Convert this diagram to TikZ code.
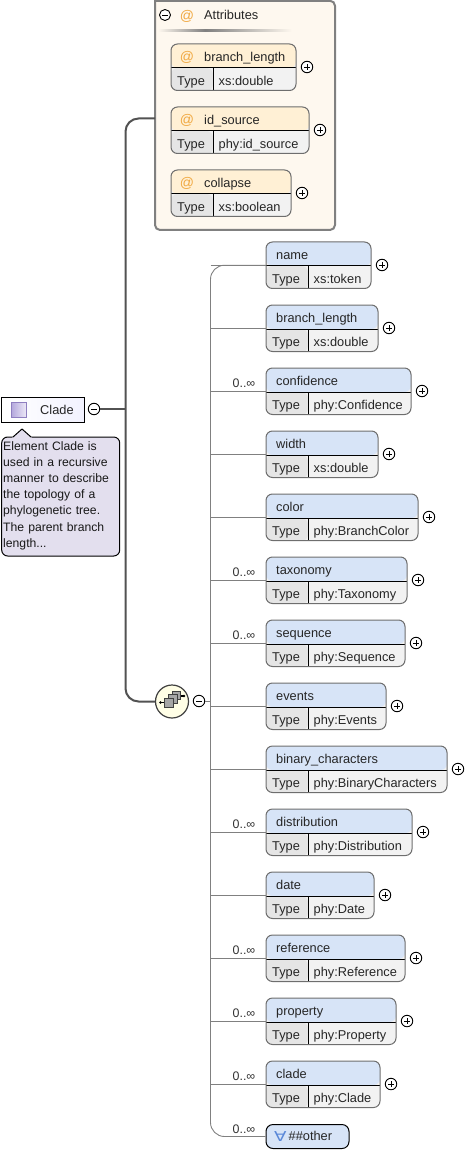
\documentclass[tikz,border=0pt]{standalone}
\usepackage{fontspec}
\setmainfont{Liberation Sans}
\newfontfamily\symfont{DejaVu Sans}
\usetikzlibrary{calc}
\definecolor{hdrblue}{HTML}{D7E4F7}
\definecolor{hdrorange}{HTML}{FFF0D5}
\definecolor{typecell}{HTML}{E5E5E5}
\definecolor{valcell}{HTML}{F2F2F2}
\definecolor{edgegray}{HTML}{6E6E6E}
\definecolor{attrfill}{HTML}{FEF8EF}
\definecolor{notefill}{HTML}{E3DFEE}
\definecolor{atcolor}{HTML}{F0A840}
\definecolor{iconviolet}{HTML}{8F7FC0}
\definecolor{icondark}{HTML}{B4A8DC}
\definecolor{iconlight}{HTML}{EEEAF8}
\definecolor{forallblue}{HTML}{5A88D8}
\tikzset{
  txt/.style={inner sep=0pt,anchor=base west,font=\fontsize{12.8}{14}\selectfont,text=black!85},
  conn/.style={draw=black!50,line width=0.9pt},
  thickconn/.style={draw=black!68,line width=2pt},
  expander/.style={circle,draw=black,fill=white,line width=0.9pt,minimum size=11.5pt,inner sep=0pt},
  bigbox/.style={draw=edgegray,line width=1pt,rounded corners=6.5pt,inner sep=0pt,anchor=north west},
  mult/.style={inner sep=0pt,anchor=base west,font=\fontsize{12.4}{14}\selectfont,text=black!80},
}
% #1 key, #2 top, #3 right, #4 label, #5 type, #6 left, #7 header colour, #8 type-cell width, #9 text offset
\newcommand\typedbox[9]{%
  \pgfmathsetmacro\boxw{#3-#6}%
  \node[bigbox,minimum width=\boxw pt,minimum height=46.5pt,fill=valcell,
    path picture={
      \fill[#7] (path picture bounding box.north west) rectangle ([xshift=\boxw pt,yshift=-24pt]path picture bounding box.north west);
      \fill[typecell] ([yshift=-24pt]path picture bounding box.north west) rectangle ([xshift=#8pt,yshift=-47pt]path picture bounding box.north west);
      \draw[black,line width=1pt] ([yshift=-24pt]path picture bounding box.north west) -- ([xshift=\boxw pt,yshift=-24pt]path picture bounding box.north west);
      \draw[black,line width=1pt] ([xshift=#8pt,yshift=-24pt]path picture bounding box.north west) -- ([xshift=#8pt,yshift=-47pt]path picture bounding box.north west);
    }] (#1) at (#6,#2-0.5) {};
  \node[txt] (#1-label) at (#6+#9,#2+17.6) {#4};
  \node[txt] (#1-typekey) at (#6+6.5,#2+41.6) {Type};
  \node[txt] (#1-type) at (#6+#8+6,#2+41.6) {#5};
  \node[expander] (#1-plus) at (#3+11.5,#2+23) {};
  \draw[black,line width=0.9pt] (#1-plus.center) ++(-3,0) -- ++(6,0) (#1-plus.center) ++(0,-3) -- ++(0,6);
}
\newcommand\elem[5]{\typedbox{#1}{#2}{#3-0.5}{#4}{#5}{265.5}{hdrblue}{42}{10.5}
  \draw[conn] (trunk |- #1.west) -- (#1.west);}
\newcommand\attrib[5]{\typedbox{#1}{#2}{#3-0.5}{#4}{#5}{170.5}{hdrorange}{42}{33.5}
  \node[inner sep=0pt,anchor=base,text=atcolor,font=\fontsize{14}{14}\selectfont] (#1-at) at (187,#2+18) {@};}
\newcommand\multi[2]{\node[mult] (m#1) at (232.5,#2+19.5) {0..∞};}
\begin{document}
\begin{tikzpicture}[x=1pt,y=-1pt]
\useasboundingbox (0,0) rectangle (466,1155);
\coordinate (trunk) at (210.5,700);
% Attributes panel
\draw[draw=black!50,line width=2pt,fill=attrfill,rounded corners=5pt] (155,-6) -- (155,230) -- (335,230) -- (335,0.8) -- (155,0.8);
\node[minimum width=180pt,minimum height=230pt,inner sep=0pt,anchor=north west] (attrs) at (155,0) {};
\node[expander,minimum size=11pt] (attrs-minus) at (165,15) {};
\draw[black,line width=0.9pt] (attrs-minus.center) ++(-3,0) -- ++(6,0);
\node[inner sep=0pt,anchor=base,text=atcolor,font=\fontsize{14}{14}\selectfont] (attrs-at) at (187,20.5) {@};
\node[txt] (attrs-title) at (204,20) {Attributes};
\shade[left color=attrfill,right color=black!50] (158,30) rectangle (205,32);
\shade[left color=black!50,right color=attrfill] (205,30) rectangle (292,32);
\attrib{abl}{44}{296}{branch\_length}{xs:double}
\attrib{ais}{107}{309}{id\_source}{phy:id\_source}
\attrib{aco}{170}{291}{collapse}{xs:boolean}
% Root element
\node[draw=black,line width=1pt,left color=white,right color=blue!5,minimum width=83pt,minimum height=25pt,inner sep=0pt,anchor=north west] (clade) at (0.7,396.8) {};
\node[draw=iconviolet,line width=0.8pt,inner sep=0pt,minimum size=15pt,shading angle=-45,left color=icondark,right color=iconlight] (clade-icon) at (19,409.5) {};
\node[txt] (clade-label) at (40,414) {Clade};
\node[expander] (clade-minus) at (94,409) {};
\draw[black,line width=0.9pt] (clade-minus.center) ++(-3,0) -- ++(6,0);
% Note
\draw[draw=black,line width=1pt,fill=notefill,rounded corners=6pt] (13,437) -- (1.7,437) -- (1.7,556) -- (119.7,556) -- (119.7,437) -- (31,437);
\path[fill=notefill] (12,438) -- (22,429) -- (32,438) -- cycle;
\draw[black,line width=1pt,line join=round] (13,437) -- (22,429) -- (31,437);
\node[inner sep=0pt,anchor=north west,align=left,text width=118pt,font=\fontsize{12.2}{16.2}\selectfont,text=black!90] (note) at (3,441) {Element Clade is\\used in a recursive\\manner to describe\\the topology of a\\phylogenetic tree.\\The parent branch\\length...};
% Sequence compositor
\node[circle,draw=black!75,line width=1.2pt,fill=yellow!10,minimum size=33pt,inner sep=0pt] (seq) at (172,701.5) {};
\draw[black,line width=1.1pt] (160,702.5) -- (166,702.5) (177,696) -- (184,696);
\fill[black] (160.5,702.5) circle (1.4) (184,696) circle (1.4);
\foreach \cx/\cy in {176.5/695.5,173/699,169/703}{\draw[draw=black!75,fill=black!35,line width=0.7pt] (\cx-4.2,\cy-4.2) rectangle (\cx+4.2,\cy+4.2);}
\node[expander] (seq-minus) at (199,701) {};
\draw[black,line width=0.9pt] (seq-minus.center) ++(-3,0) -- ++(6,0);
\draw[conn] (seq-minus.east) -- (trunk |- seq-minus.east);
% Thick connectors
\coordinate (attrjoin) at (155,118.5);
\draw[thickconn,rounded corners=13pt] (attrjoin) -- (125.5,118.5) -- (125.5,701.5) -- (seq.west);
\draw[thickconn] (clade-minus.east) -- (125.5,409);
% Elements
\elem{name}{242}{371}{name}{xs:token}
\elem{blen}{305}{378}{branch\_length}{xs:double}
\elem{conf}{368}{411}{confidence}{phy:Confidence}
\elem{width}{431}{378}{width}{xs:double}
\elem{color}{494}{418}{color}{phy:BranchColor}
\elem{taxo}{557}{407}{taxonomy}{phy:Taxonomy}
\elem{sequ}{620}{405}{sequence}{phy:Sequence}
\elem{events}{683}{386}{events}{phy:Events}
\elem{binc}{746}{447}{binary\_characters}{phy:BinaryCharacters}
\elem{dist}{809}{412}{distribution}{phy:Distribution}
\elem{date}{872}{374}{date}{phy:Date}
\elem{refe}{935}{405}{reference}{phy:Reference}
\elem{prop}{998}{396}{property}{phy:Property}
\elem{cla}{1061}{380}{clade}{phy:Clade}
\multi{conf}{368}\multi{taxo}{557}\multi{sequ}{620}\multi{dist}{809}\multi{refe}{935}\multi{prop}{998}\multi{cla}{1061}
\node[draw=black,line width=1pt,fill=hdrblue,rounded corners=7pt,minimum width=83pt,minimum height=24pt,inner sep=0pt,anchor=north west] (other) at (265.5,1124) {};
\node[txt,text=forallblue,font=\fontsize{13}{14}\symfont] (other-sym) at (274,1141.5) {\scalebox{1.4}[1.05]{∀}};
\node[txt] (other-label) at (288.5,1140.8) {\#\#other};
\node[mult] (mother) at (232.5,1133) {0..∞};
\draw[conn,rounded corners=14pt] (name.west) -- (trunk |- name.west) -- (trunk |- other.west) -- (other.west);
\end{tikzpicture}
\end{document}
